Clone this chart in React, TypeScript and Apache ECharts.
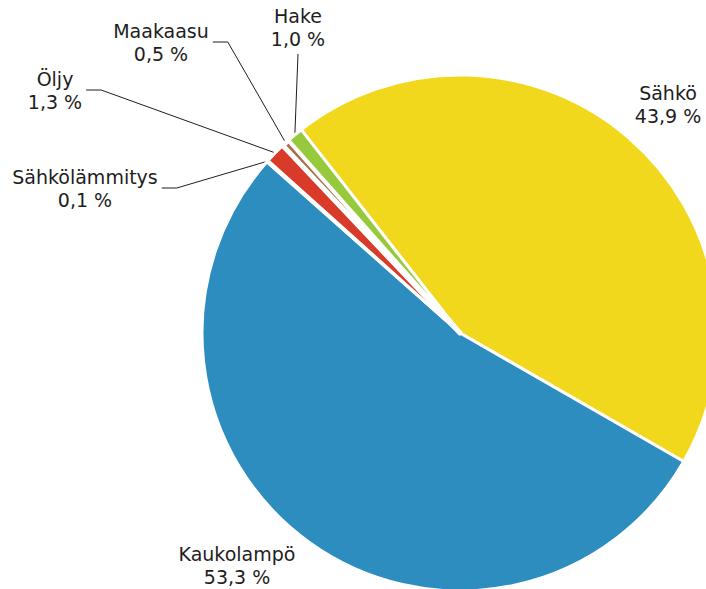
import React, { useEffect, useRef } from 'react';
import * as echarts from 'echarts';

// Data
const categories = ['Sähkö', 'Kaukolampö', 'Sähkölämmitys', 'Öljy', 'Maakaasu', 'Hake'];
const shares = [43.9, 53.3, 0.1, 1.3, 0.5, 1.0];

// Styling / layout (not data)
const sliceColors = ['#f2d81c', '#2e8dbf', '#e8862c', '#d93b2b', '#a8704a', '#97c93d'];
const sliceBorders = [3, 3, 3, 3, 5, 3];
const labelCenters: number[][] = [
  [668, 104],
  [237, 565],
  [85, 188],
  [55, 90],
  [161, 42],
  [298, 27],
];
const guideSide = ['none', 'none', 'left', 'left', 'left', 'above'];

const fmt = (v: number) => v.toFixed(1).replace('.', ',') + ' %';

export default function App() {
  const ref = useRef<HTMLDivElement>(null);
  useEffect(() => {
    if (!ref.current) return;
    const chart = echarts.init(ref.current, undefined, { renderer: 'svg' });
    chart.setOption({
      animation: false,
      backgroundColor: '#ffffff',
      series: [
        {
          type: 'pie',
          center: [460, 333],
          radius: 258,
          startAngle: 128,
          clockwise: true,
          avoidLabelOverlap: false,
          itemStyle: { borderColor: '#ffffff', borderWidth: 3, borderJoin: 'round' },
          label: {
            show: true,
            position: 'outside',
            formatter: (p: any) => p.name + '\n' + fmt(p.value),
            fontFamily: 'DejaVu Sans',
            fontSize: 19,
            lineHeight: 23,
            color: '#1e1e1e',
            align: 'center',
          },
          labelLine: {
            show: true,
            lineStyle: { color: '#1e1e1e', width: 1 },
          },
          labelLayout: (p: any) => {
            const i = p.dataIndex;
            const [x, y] = labelCenters[i];
            const w = p.labelRect.width;
            const h = p.labelRect.height;
            const res: any = { x, y, align: 'center', verticalAlign: 'middle' };
            const start = p.labelLinePoints && p.labelLinePoints[0];
            if (guideSide[i] === 'left' && start) {
              const ex = x + w / 2 + 4;
              res.labelLinePoints = [start, [ex + 15, y], [ex, y]];
            } else if (guideSide[i] === 'above' && start) {
              const ey = y + h / 2 + 4;
              res.labelLinePoints = [start, [x, ey], [x, ey]];
            }
            return res;
          },
          data: categories.map((name, i) => ({
            name,
            value: shares[i],
            itemStyle: { color: sliceColors[i], borderWidth: sliceBorders[i] },
            labelLine: { show: guideSide[i] !== 'none' },
          })),
        },
      ],
    });
    return () => chart.dispose();
  }, []);
  return (
    <div
      ref={ref}
      style={{ position: 'absolute', left: 0, top: 0, width: 706, height: 589 }}
    />
  );
}
